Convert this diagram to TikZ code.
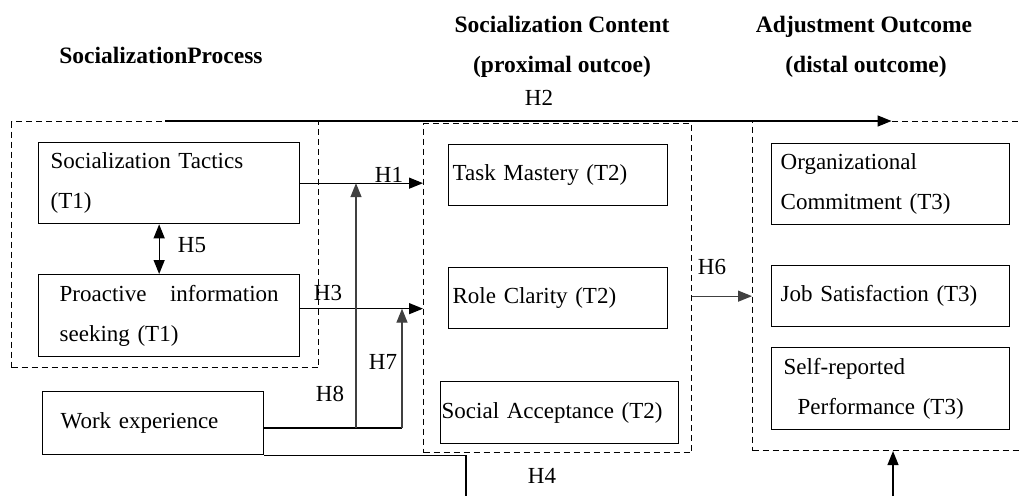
\documentclass[tikz,border=0pt]{standalone}
\usepackage{fontspec}
\setmainfont{Liberation Serif}
\usepackage{tikz}
\usetikzlibrary{arrows.meta}
\usetikzlibrary{positioning}

\begin{document}
\begin{tikzpicture}[
    x=1pt, y=-1pt,
    box/.style={draw, line width=1.3pt, anchor=north west, align=left, font=\fontsize{23}{40}\selectfont},
    grp/.style={draw, dash pattern=on 6pt off 4pt, line width=1.1pt, anchor=north west, inner sep=0pt},
    hdr/.style={font=\bfseries\fontsize{23.5}{26}\selectfont, anchor=base, inner sep=0pt},
    hyp/.style={font=\fontsize{23}{26}\selectfont, inner sep=0pt},
    conn/.style={line width=1.3pt},
    arr/.style={line width=1.3pt, -{Triangle[length=14pt,width=11pt]}},
    dbl/.style={line width=1.3pt, {Triangle[length=14pt,width=11pt]}-{Triangle[length=14pt,width=11pt]}}
]
\useasboundingbox (0,0) rectangle (1019,496);

% Titel
\node[hdr] (tproc) at (161,63) {SocializationProcess};
\node[hdr] (tcont) at (562,32) {Socialization Content};
\node[hdr] (tcont2) at (562,72) {(proximal outcoe)};
\node[hdr] (tout) at (864,32) {Adjustment Outcome};
\node[hdr] (tout2) at (866,72) {(distal outcome)};

% Gruppen
\node[grp, minimum width=307pt, minimum height=246pt] (procgrp) at (11,121) {};
\node[grp, minimum width=268pt, minimum height=329pt] (contgrp) at (423,123) {};
\node[grp, minimum width=278pt, minimum height=329pt] (outgrp) at (752,121) {};

% Prozess
\node[box, inner xsep=12pt, text width=237pt, minimum height=81pt] (tac) at (38,142) {Socialization Tactics\\(T1)};
\node[box, inner xsep=21pt, text width=219pt, minimum height=82pt] (pro) at (38,274) {Proactive\hfill information\\seeking (T1)};
\node[box, inner xsep=18pt, text width=185pt, minimum height=63pt] (we) at (42,391) {Work experience};

% Inhalt
\node[box, inner xsep=4pt, text width=211pt, minimum height=61pt] (tm) at (448,144) {Task Mastery (T2)};
\node[box, inner xsep=4pt, text width=211pt, minimum height=61pt] (rc) at (448,267) {Role Clarity (T2)};
\node[box, inner xsep=1pt, text width=236pt, minimum height=62pt] (sa) at (440,381) {Social Acceptance (T2)};

% Ergebnis
\node[box, inner xsep=9pt, text width=220pt, minimum height=81pt] (oc) at (771,143) {Organizational\\Commitment (T3)};
\node[box, inner xsep=9pt, text width=220pt, minimum height=61pt] (js) at (771,265) {Job Satisfaction (T3)};
\node[box, inner xsep=12pt, text width=214pt, minimum height=82pt] (sr) at (771,347) {Self-reported\\\hspace*{14pt}Performance (T3)};

% Hilfspunkte
\coordinate (h3s) at ([yshift=7pt]pro.east);
\coordinate (j8) at (356,428);
\coordinate (j7) at (402,428);
\coordinate (h4b) at (466,496);
\coordinate (pfin) at (893,496);

% Pfeile
\draw[arr] (procgrp.north) -- (outgrp.north);
\draw[arr] (tac.east) -- (contgrp.west |- tac.east);
\draw[arr] (h3s) -- (contgrp.west |- h3s);
\draw[conn] (we.east |- j7) -- (j7);
\draw[arr, black!75] (j8) -- (j8 |- tac.east);
\draw[arr, black!75] (j7) -- (j7 |- h3s);
\draw[dbl] ([xshift=-10pt]tac.south) -- ([xshift=-10pt]pro.north);
\draw[arr, black!75] (contgrp.east |- js) -- (outgrp.west |- js);
\draw[conn] (we.south east) -| (h4b);
\draw[arr] (pfin) -- (pfin |- outgrp.south);

% Hypothesen
\node[hyp] (lh1) at (389,175) {H1};
\node[hyp] (lh2) at (539,98) {H2};
\node[hyp] (lh3) at (328,293) {H3};
\node[hyp] (lh4) at (542,476) {H4};
\node[hyp] (lh5) at (192,245) {H5};
\node[hyp] (lh6) at (712,267) {H6};
\node[hyp] (lh7) at (383,362) {H7};
\node[hyp] (lh8) at (330,394) {H8};

\end{tikzpicture}
\end{document}
